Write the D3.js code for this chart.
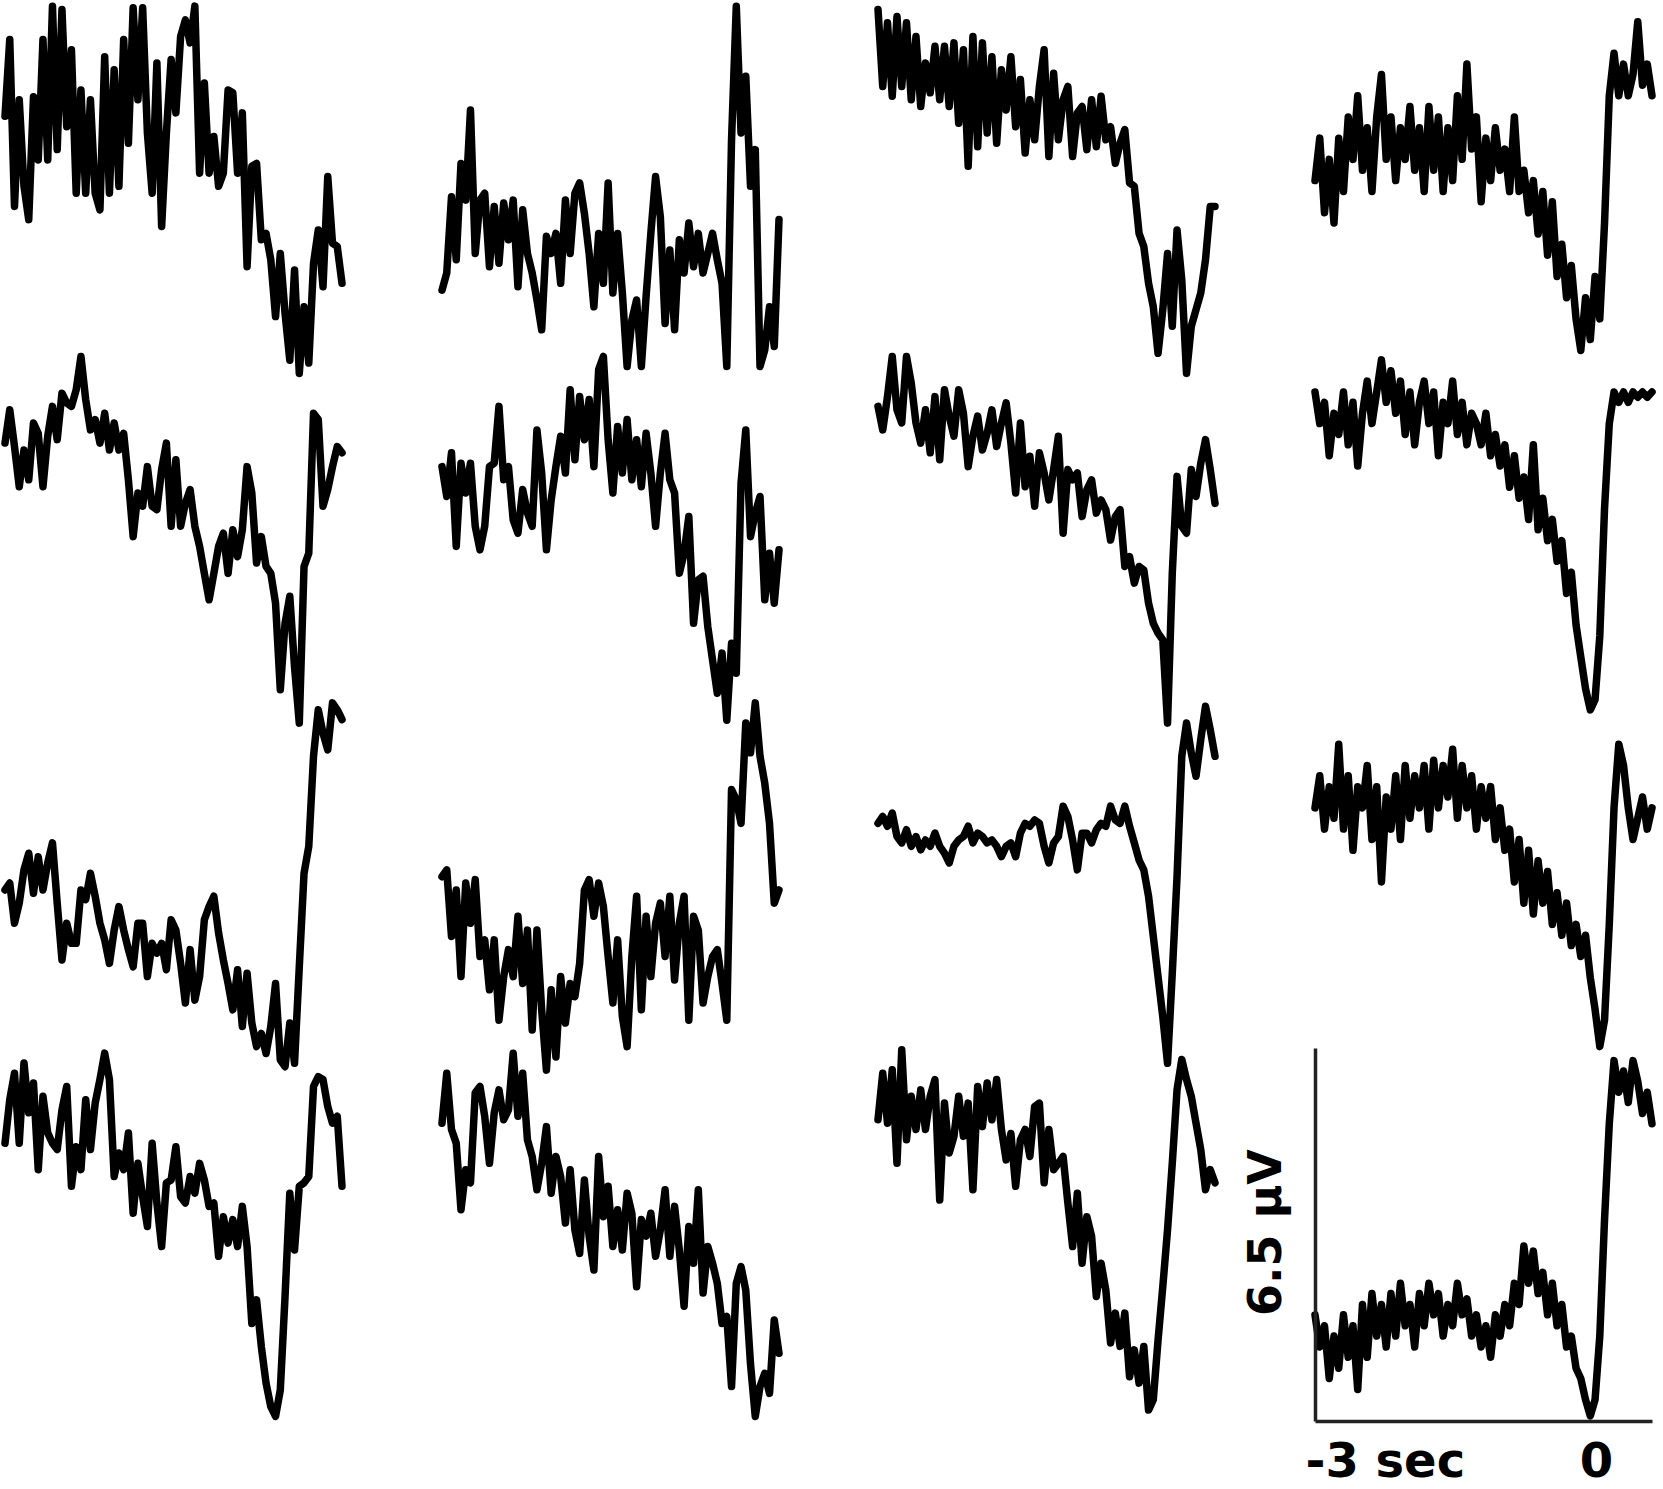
<!DOCTYPE html>
<html>
<head>
<meta charset="utf-8">
<script src="https://cdn.jsdelivr.net/npm/d3@7"></script>
<style>
  body { margin: 0; background: #fff; }
  svg { display: block; }
</style>
</head>
<body>
<svg id="chart"></svg>
<script>
// sample grid: 72 samples from -3 s to +0.6 s
const sampleCount = 72;
const timeStart = -3, timeEnd = 0.6;

// averaged traces in µV, one array per panel (row r, column c)
const r1c1 = [4.56,5.9,2.99,4.85,3.34,2.76,4.9,3.8,5.9,3.8,6.48,3.98,6.42,4.38,5.72,3.22,5.02,3.22,4.85,3.22,2.93,5.6,3.22,5.37,3.34,5.9,4.09,6.45,4.85,6.45,4.27,3.22,5.49,2.64,4.27,5.55,4.62,5.95,6.24,5.84,6.48,3.57,5.14,3.57,4.21,3.34,3.57,5.02,4.97,3.57,4.62,1.94,3.69,3.74,2.41,2.52,2.06,1.07,2.17,1.13,0.31,1.88,0.08,1.24,0.26,2.0,2.58,1.59,3.51,2.35,2.29,1.65];
const r2c1 = [4.93,5.51,4.87,4.17,4.81,4.29,5.28,5.1,4.17,5.05,5.57,4.99,5.8,5.63,5.57,5.86,6.44,5.69,5.16,5.34,4.93,5.45,4.81,5.28,4.81,5.1,4.29,3.3,4.06,3.83,4.52,3.83,3.77,4.47,4.93,3.48,4.64,3.48,3.88,4.12,3.48,3.13,2.66,2.2,2.66,3.13,3.36,2.66,3.42,2.95,3.42,4.52,4.06,2.84,3.3,2.78,2.66,2.14,0.63,1.79,2.26,1.03,0.05,2.78,3.01,5.45,5.34,3.83,4.12,4.52,4.87,4.76];
const r3c1 = [3.19,3.31,2.61,2.96,3.54,3.83,3.13,3.77,3.19,3.66,4.01,2.96,1.97,2.61,2.26,2.26,3.19,3.02,3.48,3.08,2.61,2.32,1.91,2.49,2.9,2.49,2.15,1.85,2.61,2.61,1.68,2.26,2.09,2.26,1.8,2.67,2.49,1.91,1.22,2.15,1.27,1.68,2.67,2.9,3.08,2.44,1.97,1.56,1.1,1.8,0.81,1.74,0.87,0.46,0.69,0.34,0.81,1.56,0.23,0.11,0.87,0.17,1.85,3.48,3.95,5.52,6.33,5.92,5.63,6.45,6.33,6.16];
const r4c1 = [4.84,5.6,6.06,4.84,6.24,5.37,5.89,4.38,5.66,5.02,4.84,4.73,5.42,5.83,4.09,4.78,4.38,5.6,4.73,5.54,5.95,6.41,5.95,4.26,4.67,4.38,5.02,3.62,4.49,3.91,3.39,4.84,3.8,3.04,4.15,4.2,4.78,3.91,3.8,4.26,3.97,4.49,4.2,3.74,3.8,2.87,3.56,3.1,3.51,3.04,3.74,3.04,1.7,2.11,1.3,0.66,0.25,0.08,0.54,2.17,3.97,2.98,4.09,4.15,4.26,5.83,6.0,5.95,5.48,5.19,5.31,4.09];

const r1c2 = [1.53,1.83,3.16,2.06,3.74,3.1,4.67,2.17,3.1,3.22,1.94,2.99,2.0,3.05,2.41,3.1,1.59,2.93,2.17,1.83,1.36,0.84,2.47,2.17,2.52,1.65,3.1,2.17,3.22,3.4,2.87,2.17,1.24,2.52,1.65,3.4,1.48,2.52,1.48,0.2,1.01,1.36,0.2,1.42,2.52,3.51,2.81,0.95,2.23,0.84,2.41,1.83,2.7,1.94,2.52,1.83,2.17,2.52,2.06,1.65,0.2,4.15,6.48,4.27,5.26,3.34,3.98,0.2,0.49,1.24,0.55,2.76];
const r2c2 = [4.52,4.0,4.76,3.13,4.58,4.06,4.58,3.48,3.07,3.48,4.52,4.58,5.57,4.29,4.52,3.59,3.36,4.12,3.71,3.48,5.16,4.41,3.07,3.94,4.52,5.05,4.41,5.86,4.64,5.74,4.99,5.69,4.52,6.21,6.44,4.99,4.06,5.22,4.41,5.34,4.29,4.99,4.17,5.1,4.41,3.48,4.41,5.1,4.29,4.06,2.66,3.01,3.65,1.79,2.55,2.61,1.73,1.15,0.57,1.27,0.1,1.44,0.92,4.23,5.16,3.3,3.71,4.0,2.2,3.01,2.14,3.07];
const r3c2 = [3.42,3.54,2.38,3.19,1.68,3.31,2.61,3.37,2.03,2.32,1.45,2.32,0.92,1.68,2.15,1.68,2.73,1.56,2.49,0.75,2.49,1.1,0.05,1.45,0.28,1.68,0.87,1.56,1.33,1.91,3.19,3.37,2.73,3.31,2.9,2.03,1.22,2.32,0.98,0.46,2.03,3.08,1.1,2.73,1.68,2.61,2.96,2.03,3.08,1.62,2.61,3.08,0.92,2.73,2.49,1.22,1.68,2.03,2.15,1.56,0.92,4.94,4.76,4.35,6.1,5.58,6.45,5.52,5.05,4.35,2.96,3.19];
const r4c2 = [5.19,6.06,5.08,4.84,3.68,4.38,4.15,5.72,5.83,5.31,4.49,5.37,5.77,5.25,5.42,6.41,5.31,6.06,4.9,4.61,4.03,4.49,5.13,3.97,4.61,4.26,3.45,4.38,3.33,2.92,4.2,3.22,2.63,4.61,3.56,4.09,3.04,3.68,2.98,3.97,3.62,2.34,3.51,3.22,3.62,2.87,3.33,4.03,2.87,3.74,2.98,2.0,3.39,2.75,4.03,2.23,3.04,2.75,2.4,1.7,1.82,0.6,2.4,2.69,2.28,0.99,0.08,0.6,0.83,0.48,1.76,1.18];

const r1c3 = [6.42,5.08,6.19,4.91,6.3,5.08,6.19,4.85,5.95,4.73,5.49,4.97,5.78,4.85,5.78,4.73,5.84,4.44,5.72,3.69,5.95,4.03,5.84,4.27,5.6,4.09,5.37,4.67,5.6,4.38,5.2,3.92,4.85,4.15,5.08,5.72,3.86,5.31,4.15,4.85,5.08,3.86,4.62,4.73,3.98,4.85,4.03,4.91,4.15,4.38,3.74,4.09,4.33,3.4,3.34,2.52,2.29,1.65,1.24,0.43,1.19,2.17,0.9,2.58,1.71,0.08,0.9,1.19,1.48,2.06,2.99,2.99];
const r2c3 = [5.57,5.16,5.74,6.44,5.51,5.28,6.44,5.98,5.28,4.93,5.51,4.76,5.74,4.64,5.86,5.4,5.05,5.86,5.45,4.52,5.05,5.4,4.81,5.1,5.51,4.87,5.28,5.63,4.93,4.06,5.28,4.17,4.7,3.83,4.76,4.41,3.94,4.47,5.05,3.36,4.47,4.29,4.41,3.65,4.12,4.29,3.71,3.94,3.77,3.24,3.65,3.77,2.78,2.95,2.49,2.78,2.72,2.14,1.79,1.62,1.5,0.05,2.66,4.35,3.48,3.36,4.47,4.0,4.58,4.99,4.47,3.88];
const r3c3 = [4.35,4.47,4.3,4.53,4.12,4.01,4.24,3.95,4.12,3.89,4.06,3.95,4.18,3.95,3.83,3.66,3.95,4.06,4.12,4.3,4.01,4.18,4.12,4.01,4.06,3.95,3.77,3.95,4.01,3.77,4.18,4.35,4.3,4.41,4.35,3.95,3.66,4.01,4.12,4.65,4.47,4.06,3.54,4.18,4.18,4.01,4.24,4.35,4.3,4.65,4.41,4.35,4.65,4.3,4.01,3.71,3.54,3.08,2.38,1.68,0.98,0.17,1.74,3.42,5.52,6.1,5.58,5.17,5.81,6.39,5.98,5.52];
const r4c3 = [5.25,6.06,5.19,6.12,4.49,6.47,4.9,5.66,5.08,5.77,5.08,5.66,5.95,3.85,5.54,4.67,4.96,5.66,4.96,5.54,4.03,5.83,5.13,5.89,5.25,5.95,5.08,4.55,5.01,4.09,4.9,5.08,4.61,5.48,5.54,4.15,5.08,4.38,4.49,4.61,3.8,3.04,3.97,2.75,3.56,3.22,2.17,2.75,2.28,1.36,1.88,1.3,1.88,0.77,1.24,0.66,1.3,0.19,0.37,1.41,2.34,3.33,4.49,5.77,6.3,5.95,5.66,5.19,4.73,4.03,4.38,4.15];

const r1c4 = [3.44,4.18,2.88,3.81,2.7,4.18,3.25,4.55,3.81,4.92,3.62,4.36,3.25,4.55,5.29,3.81,4.55,3.44,4.36,3.81,4.73,3.62,4.36,3.25,4.73,3.62,4.55,3.25,4.36,3.44,4.92,3.81,5.47,3.99,4.55,3.07,4.18,3.44,4.36,3.62,3.99,3.25,4.55,3.25,3.62,2.88,3.44,2.51,3.25,2.14,3.07,1.77,2.33,1.4,1.96,1.03,0.48,1.4,0.67,1.77,1.03,2.7,4.92,5.66,4.92,5.47,4.92,5.29,6.21,5.1,5.47,4.92];
const r2c4 = [5.82,5.27,5.64,4.71,5.45,5.08,5.82,4.9,5.64,4.53,5.45,6.01,5.27,5.82,6.38,5.64,6.19,5.45,6.01,5.08,5.82,4.9,5.64,6.01,5.27,5.82,4.71,5.64,5.27,6.01,5.08,5.64,4.9,5.45,5.27,4.9,5.45,4.71,5.08,4.53,4.9,4.16,4.71,3.97,4.34,3.6,4.9,3.42,3.97,3.23,3.6,2.87,3.23,2.31,2.68,1.76,1.2,0.65,0.28,0.46,1.57,3.79,5.27,5.82,5.64,5.82,5.64,5.82,5.73,5.82,5.73,5.82];
const r3c4 = [4.62,5.18,4.25,4.99,4.44,5.73,4.25,5.18,3.88,4.99,4.62,5.36,4.07,4.99,3.33,4.81,4.25,5.18,4.07,5.36,4.44,5.18,4.62,5.36,4.25,5.45,4.62,5.36,4.81,5.64,4.44,5.36,4.62,5.18,4.25,4.99,4.44,4.99,4.07,4.62,3.88,4.25,3.33,4.07,2.96,3.88,2.77,3.7,2.96,3.51,2.59,3.14,2.4,2.96,2.22,2.59,2.03,2.4,1.66,1.11,0.46,0.92,2.59,4.62,5.73,5.36,4.62,4.07,4.44,4.81,4.25,4.62];
const r4c4 = [1.85,1.29,1.66,0.74,1.48,0.92,1.85,1.11,1.66,0.55,2.03,1.11,2.22,1.48,2.03,1.29,2.22,1.48,2.4,1.66,2.03,1.29,2.22,1.66,2.4,1.85,2.22,1.48,2.03,1.66,2.4,1.85,2.13,1.48,1.85,1.29,1.66,1.11,1.85,1.48,2.03,1.66,2.4,2.03,3.05,2.4,2.96,2.22,2.59,1.85,2.4,1.66,2.03,1.29,1.48,0.92,0.74,0.37,0.09,0.37,1.48,3.51,5.18,6.28,5.73,6.1,5.55,6.28,5.92,5.36,5.73,5.18];

const panels = [
  [r1c1, r1c2, r1c3, r1c4],
  [r2c1, r2c2, r2c3, r2c4],
  [r3c1, r3c2, r3c3, r3c4],
  [r4c1, r4c2, r4c3, r4c4]
];

// scale bar labels
const scaleBarValue = 6.5;          // µV
const scaleBarLabel = '6.5 µV';
const timeTicks = [-3, 0];
const timeTickLabels = ['-3 sec', '0'];

const width = 1663, height = 1489;
const colLeft = [5, 442, 878, 1315];
const rowTop = [5, 353, 700, 1048];
const panelW = 337, panelH = 373;
const labelFont = '"DejaVu Sans", sans-serif';

const times = d3.range(sampleCount).map(i => timeStart + (timeEnd - timeStart) * i / (sampleCount - 1));

const svg = d3.select('#chart')
    .attr('width', width)
    .attr('height', height);

panels.forEach((row, r) => {
    row.forEach((values, c) => {
        const x = d3.scaleLinear()
            .domain([timeStart, timeEnd])
            .range([colLeft[c], colLeft[c] + panelW]);
        const y = d3.scaleLinear()
            .domain([0, scaleBarValue])
            .range([rowTop[r] + panelH, rowTop[r]]);

        const line = d3.line()
            .x((d, i) => x(times[i]))
            .y(d => y(d));

        svg.append('path')
            .datum(values)
            .attr('fill', 'none')
            .attr('stroke', '#000')
            .attr('stroke-width', 7.5)
            .attr('stroke-linejoin', 'round')
            .attr('stroke-linecap', 'round')
            .attr('d', line);

        // scale bars only on the last panel
        if (r === 3 && c === 3) {
            const xAxis = d3.axisBottom(x)
                .tickValues(timeTicks)
                .tickSize(0)
                .tickSizeOuter(0)
                .tickPadding(22)
                .tickFormat((d, i) => timeTickLabels[i]);

            const yAxis = d3.axisLeft(y)
                .tickValues([])
                .tickSizeOuter(0);

            const xg = svg.append('g')
                .attr('transform', `translate(0,${rowTop[r] + panelH})`)
                .call(xAxis);
            const yg = svg.append('g')
                .attr('transform', `translate(${colLeft[c]},0)`)
                .call(yAxis);

            [xg, yg].forEach(g => g.select('.domain')
                .attr('stroke', '#222')
                .attr('stroke-width', 3.5));

            xg.selectAll('.tick text')
                .attr('fill', '#000')
                .style('font-family', labelFont)
                .style('font-weight', 700)
                .style('font-size', '48px');
            xg.selectAll('.tick text')
                .filter(d => d === -3)
                .attr('text-anchor', 'start')
                .attr('dx', -10);

            svg.append('text')
                .attr('transform', `translate(${colLeft[c] - 50},${y(scaleBarValue * 0.505)}) rotate(-90)`)
                .attr('text-anchor', 'middle')
                .attr('dominant-baseline', 'central')
                .attr('fill', '#000')
                .style('font-family', labelFont)
                .style('font-weight', 700)
                .style('font-size', '46px')
                .text(scaleBarLabel);
        }
    });
});
</script>
</body>
</html>
